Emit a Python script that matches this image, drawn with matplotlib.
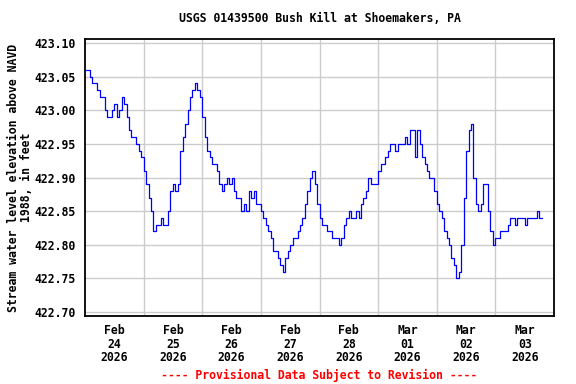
import matplotlib
matplotlib.use("Agg")
import matplotlib.pyplot as plt
import numpy as np

# Hourly gage readings starting Feb 24 2026 00:00 (feet)
elev = [
    423.06, 423.06, 423.05, 423.04, 423.04, 423.03, 423.02, 423.02, 423.00, 422.99,
    422.99, 423.00, 423.01, 422.99, 423.00, 423.02, 423.01, 422.99, 422.97, 422.96,
    422.96, 422.95, 422.94, 422.93, 422.91, 422.89, 422.87, 422.85, 422.82, 422.83,
    422.83, 422.84, 422.83, 422.83, 422.85, 422.88, 422.89, 422.88, 422.89, 422.94,
    422.96, 422.98, 423.00, 423.02, 423.03, 423.04, 423.03, 423.02, 422.99, 422.96,
    422.94, 422.93, 422.92, 422.92, 422.91, 422.89, 422.88, 422.89, 422.90, 422.89,
    422.90, 422.88, 422.87, 422.87, 422.85, 422.86, 422.85, 422.88, 422.87, 422.88,
    422.86, 422.86, 422.85, 422.84, 422.83, 422.82, 422.81, 422.79, 422.79, 422.78,
    422.77, 422.76, 422.78, 422.79, 422.80, 422.81, 422.81, 422.82, 422.83, 422.84,
    422.86, 422.88, 422.90, 422.91, 422.89, 422.86, 422.84, 422.83, 422.83, 422.82,
    422.82, 422.81, 422.81, 422.81, 422.80, 422.81, 422.83, 422.84, 422.85, 422.84,
    422.84, 422.85, 422.84, 422.86, 422.87, 422.88, 422.90, 422.89, 422.89, 422.89,
    422.91, 422.92, 422.92, 422.93, 422.94, 422.95, 422.95, 422.94, 422.95, 422.95,
    422.95, 422.96, 422.95, 422.97, 422.97, 422.93, 422.97, 422.95, 422.93, 422.92,
    422.91, 422.90, 422.90, 422.88, 422.86, 422.85, 422.84, 422.82, 422.81, 422.80,
    422.78, 422.77, 422.75, 422.76, 422.80, 422.87, 422.94, 422.97, 422.98, 422.90,
    422.86, 422.85, 422.86, 422.89, 422.89, 422.85, 422.82, 422.80, 422.81, 422.81,
    422.82, 422.82, 422.82, 422.83, 422.84, 422.84, 422.83, 422.84, 422.84, 422.84,
    422.83, 422.84, 422.84, 422.84, 422.84, 422.85, 422.84, 422.84,
]
hours = np.arange(len(elev))

day_labels = ["Feb\n24\n2026", "Feb\n25\n2026", "Feb\n26\n2026", "Feb\n27\n2026",
              "Feb\n28\n2026", "Mar\n01\n2026", "Mar\n02\n2026", "Mar\n03\n2026"]
y_ticks = [422.70, 422.75, 422.80, 422.85, 422.90, 422.95, 423.00, 423.05, 423.10]

FONT = "DejaVu Sans Mono"
fs = 8.3

fig = plt.figure(figsize=(5.76, 3.84), dpi=100)
ax = fig.add_axes([85/576, 1-316/384, (554-85)/576, (316-39)/384])

ax.step(hours, elev, where="post", color="#0000ff", linewidth=0.9)

ax.set_xlim(0, 192)
ax.set_ylim(422.694, 423.106)

ax.set_yticks(y_ticks)
ax.set_yticklabels([f"{v:.2f}" for v in y_ticks], fontfamily=FONT,
                   fontweight="bold", fontsize=fs)
ax.set_xticks(np.arange(len(day_labels)) * 24 + 12)
ax.set_xticklabels(day_labels, fontfamily=FONT, fontweight="bold",
                   fontsize=fs, linespacing=1.05)
ax.set_xticks(np.arange(1, 8) * 24, minor=True)
ax.tick_params(axis="both", which="both", length=0)
ax.tick_params(axis="x", pad=6)
ax.tick_params(axis="y", pad=7)

ax.grid(True, axis="y", which="major", color="#cccccc", linewidth=1.0)
ax.grid(True, axis="x", which="minor", color="#cccccc", linewidth=1.0)
ax.grid(False, axis="x", which="major")
ax.set_axisbelow(True)
for s in ax.spines.values():
    s.set_linewidth(1.3)
    s.set_color("black")

ax.set_ylabel("Stream water level elevation above NAVD\n1988, in feet",
              fontfamily=FONT, fontweight="bold", fontsize=fs,
              linespacing=1.0, labelpad=1)

fig.text(319.5/576, 1-19/384, "USGS 01439500 Bush Kill at Shoemakers, PA",
         ha="center", va="center", fontfamily=FONT, fontweight="bold", fontsize=fs)
fig.text(319.5/576, 1-375/384, "---- Provisional Data Subject to Revision ----",
         ha="center", va="center", fontfamily=FONT, fontweight="bold",
         fontsize=fs, color="#ff0000")

fig.savefig("out.png", dpi=100)
